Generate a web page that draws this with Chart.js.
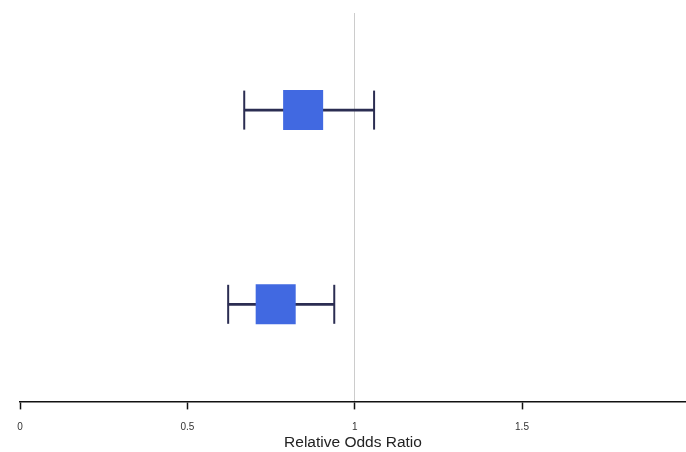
<!DOCTYPE html>
<html>
<head>
<meta charset="utf-8">
<script src="https://cdn.jsdelivr.net/npm/chart.js@4"></script>
<style>
  html, body { margin: 0; padding: 0; background: #fff; }
  #wrap { width: 686px; height: 452px; }
</style>
</head>
<body>
<div id="wrap"><canvas id="forest"></canvas></div>
<script>
// rows of the forest plot, top to bottom
const rows = ['Row 1', 'Row 2'];
const estimates = [0.846, 0.764];   // point estimate (square centre)
const ciLow = [0.670, 0.622];
const ciHigh = [1.058, 0.939];
const tickValues = [0, 0.5, 1, 1.5];

const whiskerColor = '#2b2d52';
const boxColor = '#4169e1';

const ctx = document.getElementById('forest').getContext('2d');
const chart = new Chart(ctx, {
    data: {
        labels: rows,
        datasets: [
            {
                // horizontal CI line
                type: 'bar',
                indexAxis: 'y',
                data: rows.map((r, i) => [ciLow[i], ciHigh[i]]),
                backgroundColor: whiskerColor,
                barThickness: 2,
                order: 3
            },
            {
                // end caps
                type: 'scatter',
                data: rows.flatMap((r, i) => [{ x: ciLow[i], y: r }, { x: ciHigh[i], y: r }]),
                pointStyle: 'line',
                rotation: 90,
                radius: 19.5,
                hoverRadius: 19.5,
                borderColor: whiskerColor,
                borderWidth: 2,
                order: 2
            },
            {
                // point estimate square
                type: 'scatter',
                data: rows.map((r, i) => ({ x: estimates[i], y: r })),
                pointStyle: 'rect',
                radius: 28.3,
                hoverRadius: 28.3,
                backgroundColor: boxColor,
                borderColor: boxColor,
                borderWidth: 0,
                order: 1
            }
        ]
    },
    options: {
        responsive: true,
        maintainAspectRatio: false,
        animation: false,
        events: [],
        layout: { autoPadding: false, padding: { left: 20, right: 0, top: 13, bottom: 0 } },
        plugins: {
            legend: { display: false },
            tooltip: { enabled: false }
        },
        scales: {
            y: {
                type: 'category',
                labels: rows,
                offset: true,
                display: false
            },
            x: {
                type: 'linear',
                min: 0,
                max: 1.99,
                afterBuildTicks: scale => {
                    scale.ticks = tickValues.map(v => ({ value: v }));
                },
                border: { color: '#111', width: 1.5 },
                grid: {
                    color: c => (c.tick && c.tick.value === 1 ? '#cccccc' : 'rgba(0,0,0,0)'),
                    lineWidth: 1,
                    tickColor: '#111',
                    tickLength: 8,
                    tickWidth: 1.5
                },
                ticks: {
                    color: '#333',
                    font: { family: 'Arial, "Liberation Sans", sans-serif', size: 10 },
                    padding: 12,
                    maxRotation: 0,
                    callback: v => String(v)
                },
                title: {
                    display: true,
                    text: 'Relative Odds Ratio',
                    color: '#222',
                    font: { family: 'Arial, "Liberation Sans", sans-serif', size: 15.5 },
                    padding: { top: -12, bottom: 0 }
                }
            }
        }
    }
});
</script>
</body>
</html>
